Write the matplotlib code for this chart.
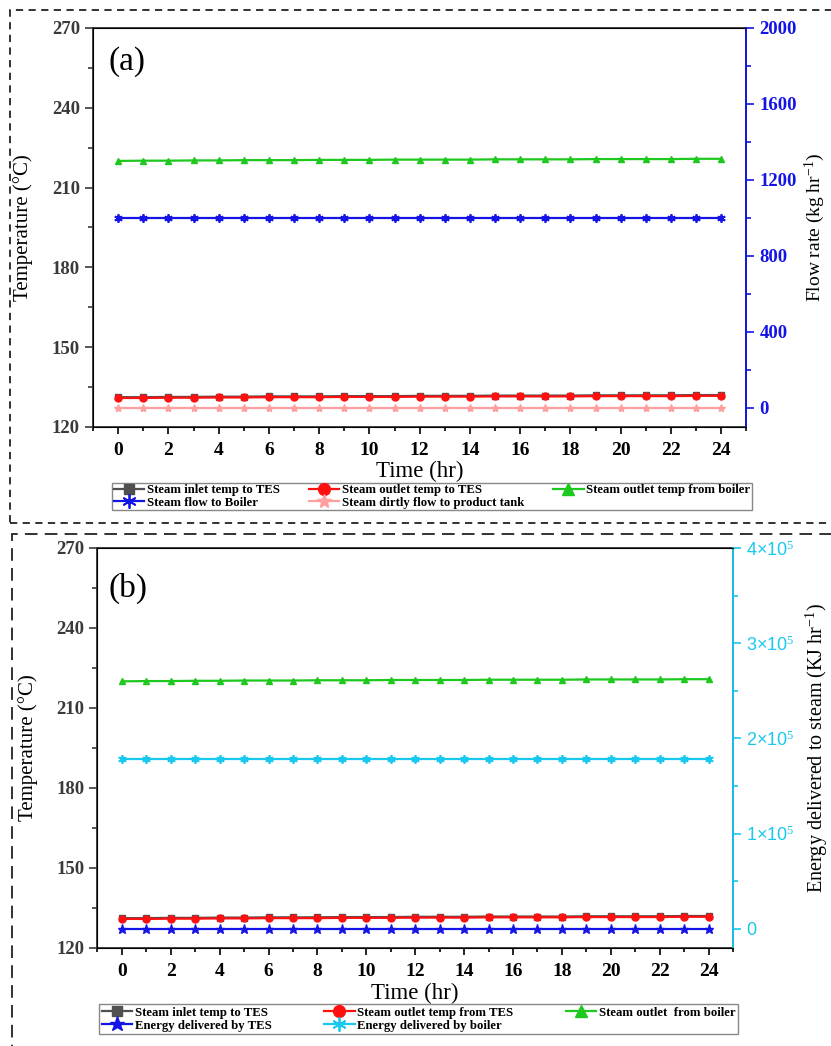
import matplotlib
matplotlib.use("Agg")
import matplotlib.pyplot as plt
from matplotlib.patches import Rectangle
from matplotlib.ticker import MultipleLocator, FuncFormatter

plt.rcParams['font.family'] = 'Liberation Serif'
plt.rcParams['mathtext.fontset'] = 'custom'
plt.rcParams['mathtext.rm'] = 'Liberation Serif'
plt.rcParams['mathtext.it'] = 'Liberation Serif:italic'

hours = list(range(25))

# panel (a)
inlet_a = [131.2, 131.2, 131.3, 131.3, 131.4, 131.4, 131.5, 131.5, 131.5, 131.6, 131.6, 131.6, 131.7,
           131.7, 131.7, 131.8, 131.8, 131.8, 131.8, 131.9, 131.9, 131.9, 131.9, 132.0, 132.0]
outlet_tes_a = [130.9, 130.9, 131.0, 131.0, 131.1, 131.1, 131.2, 131.2, 131.2, 131.3, 131.3, 131.3, 131.4,
                131.4, 131.4, 131.5, 131.5, 131.5, 131.5, 131.6, 131.6, 131.6, 131.6, 131.7, 131.7]
outlet_boiler_a = [220.0, 220.1, 220.1, 220.2, 220.2, 220.3, 220.3, 220.3, 220.4, 220.4, 220.4, 220.5, 220.5,
                   220.5, 220.5, 220.6, 220.6, 220.6, 220.6, 220.7, 220.7, 220.7, 220.7, 220.8, 220.8]
flow_boiler = [1000] * 25
flow_direct = [0] * 25

# panel (b)
inlet_b = [131.2, 131.2, 131.3, 131.3, 131.4, 131.4, 131.5, 131.5, 131.5, 131.6, 131.6, 131.6, 131.7,
           131.7, 131.7, 131.8, 131.8, 131.8, 131.8, 131.9, 131.9, 131.9, 131.9, 132.0, 132.0]
outlet_tes_b = [130.9, 130.9, 131.0, 131.0, 131.1, 131.1, 131.2, 131.2, 131.2, 131.3, 131.3, 131.3, 131.4,
                131.4, 131.4, 131.5, 131.5, 131.5, 131.5, 131.6, 131.6, 131.6, 131.6, 131.7, 131.7]
outlet_boiler_b = [220.0, 220.1, 220.1, 220.2, 220.2, 220.3, 220.3, 220.3, 220.4, 220.4, 220.4, 220.5, 220.5,
                   220.5, 220.5, 220.6, 220.6, 220.6, 220.6, 220.7, 220.7, 220.7, 220.7, 220.8, 220.8]
energy_tes = [0] * 25
energy_boiler = [178000] * 25

GRAY = '#505050'
RED = '#ff1010'
GREEN = '#1ec81e'
BLUE = '#1414e6'
PINK = '#ffa0a0'
CYAN = '#19c8ee'
ASTER = (6, 2, 0)


def style_common(ax):
    ax.set_xlim(-1, 25)
    ax.set_ylim(120, 270)
    ax.xaxis.set_major_locator(MultipleLocator(2))
    ax.xaxis.set_minor_locator(MultipleLocator(1))
    ax.yaxis.set_major_locator(MultipleLocator(30))
    ax.yaxis.set_minor_locator(MultipleLocator(15))
    ax.tick_params(axis='x', which='major', length=5, width=1.2, labelsize=14, pad=6)
    ax.tick_params(axis='x', which='minor', length=3, width=1.2)
    ax.tick_params(axis='y', which='major', length=6, width=1.2, labelsize=13.5, labelcolor='#3a3a3a', color='#3a3a3a')
    ax.tick_params(axis='y', which='minor', length=3.5, width=1.2, color='#3a3a3a')
    for lab in ax.get_xticklabels() + ax.get_yticklabels():
        lab.set_fontweight('bold')
    for sp in ax.spines.values():
        sp.set_linewidth(1.3)
        sp.set_color('#333333')
    ax.set_xlabel('Time (hr)', fontsize=16.5)
    ax.set_ylabel('Temperature (\u00b0C)', fontsize=15)


def temp_lines(ax, inlet, out_tes, out_boil, lab_tes, lab_boil):
    h1, = ax.plot(hours, inlet, color=GRAY, lw=1.6, marker='s', ms=4.5, label='Steam inlet temp to TES')
    h2, = ax.plot(hours, out_tes, color=RED, lw=1.6, marker='o', ms=5, label=lab_tes)
    h3, = ax.plot(hours, out_boil, color=GREEN, lw=1.6, marker='^', ms=5, label=lab_boil)
    return h1, h2, h3


fig = plt.figure(figsize=(8.31, 10.46), dpi=100)

# ---------------- panel (a)
ax1 = fig.add_axes([0.112, 0.5918, 0.786, 0.3815])
h1, h2, h3 = temp_lines(ax1, inlet_a, outlet_tes_a, outlet_boiler_a,
                        'Steam outlet temp to TES', 'Steam outlet temp from boiler')
style_common(ax1)
ax1.text(0.023, 0.915, '(a)', transform=ax1.transAxes, fontsize=24, va='center', ha='left')
ax1.xaxis.set_label_coords(0.5, -0.085)
ax1.yaxis.set_label_coords(-0.092, 0.5)

ax1r = ax1.twinx()
h4, = ax1r.plot(hours, flow_boiler, color=BLUE, lw=1.6, marker=ASTER, ms=6, mew=1.3, label='Steam flow to Boiler')
h5, = ax1r.plot(hours, flow_direct, color=PINK, lw=1.6, marker='*', ms=6, label='Steam dirtly flow to product tank')
ax1r.set_ylim(-100, 2000)
ax1r.yaxis.set_major_locator(MultipleLocator(400))
ax1r.yaxis.set_minor_locator(MultipleLocator(200))
ax1r.tick_params(axis='y', which='major', length=6, width=1.2, colors=BLUE, labelsize=13.5)
ax1r.tick_params(axis='y', which='minor', length=3.5, width=1.2, colors=BLUE)
for lab in ax1r.get_yticklabels():
    lab.set_fontweight('bold')
ax1r.spines['right'].set_color(BLUE)
ax1r.spines['right'].set_linewidth(1.3)
ax1r.set_ylabel('Flow rate (kg hr$^{-1}$)', fontsize=14, rotation=90)
ax1r.yaxis.set_label_coords(1.086, 0.5)

fig.legend([h1, h4, h2, h5, h3], [h.get_label() for h in [h1, h4, h2, h5, h3]],
           ncol=3, loc='upper left', bbox_to_anchor=(0.1348, 0.5096, 0.770, 0.0287),
           mode='expand', fancybox=False, edgecolor='#888888', framealpha=1,
           prop={'weight': 'bold', 'size': 9.2}, handlelength=2.4, handletextpad=0.2,
           borderpad=0.12, labelspacing=0.02, columnspacing=0.6, markerscale=1.7, borderaxespad=0)

# ---------------- panel (b)
ax2 = fig.add_axes([0.1173, 0.0937, 0.7647, 0.3824])
g1, g2, g3 = temp_lines(ax2, inlet_b, outlet_tes_b, outlet_boiler_b,
                        'Steam outlet temp from TES', 'Steam outlet  from boiler')
style_common(ax2)
ax2.text(0.017, 0.90, '(b)', transform=ax2.transAxes, fontsize=24, va='center', ha='left')
ax2.xaxis.set_label_coords(0.5, -0.087)
ax2.yaxis.set_label_coords(-0.093, 0.5)

ax2r = ax2.twinx()
g4, = ax2r.plot(hours, energy_tes, color=BLUE, lw=1.6, marker='*', ms=6.5, label='Energy delivered by TES')
g5, = ax2r.plot(hours, energy_boiler, color=CYAN, lw=1.6, marker=ASTER, ms=6, mew=1.3, label='Energy delivered by boiler')
ax2r.set_ylim(-20000, 400000)
ax2r.yaxis.set_major_locator(MultipleLocator(100000))
ax2r.yaxis.set_minor_locator(MultipleLocator(50000))
ax2r.yaxis.set_major_formatter(FuncFormatter(
    lambda v, p: '0' if v == 0 else '%d\u00d710$^{5}$' % round(v / 1e5)))
ax2r.tick_params(axis='y', which='major', length=6, width=1.2, colors=CYAN, labelsize=13)
ax2r.tick_params(axis='y', which='minor', length=3.5, width=1.2, colors=CYAN)
for lab in ax2r.get_yticklabels():
    lab.set_family(['Liberation Sans', 'DejaVu Sans'])
ax2r.spines['right'].set_color(CYAN)
ax2r.spines['right'].set_linewidth(1.3)
ax2r.set_ylabel('Energy delivered to steam (KJ hr$^{-1}$)', fontsize=14.5, rotation=90)
ax2r.yaxis.set_label_coords(1.112, 0.5)

fig.legend([g1, g4, g2, g5, g3], [h.get_label() for h in [g1, g4, g2, g5, g3]],
           ncol=3, loc='upper left', bbox_to_anchor=(0.1191, 0.0076, 0.769, 0.0325),
           mode='expand', fancybox=False, edgecolor='#888888', framealpha=1,
           prop={'weight': 'bold', 'size': 9.2}, handlelength=2.4, handletextpad=0.2,
           borderpad=0.2, labelspacing=0.08, columnspacing=0.6, markerscale=1.7, borderaxespad=0)

# dashed frames around the two panels
fig.patches.append(Rectangle((10 / 831, 1 - 523 / 1046), 1.0, 513 / 1046, transform=fig.transFigure,
                             fill=False, edgecolor='#222222', lw=1.3, ls=(0, (4, 3)), clip_on=False))
fig.patches.append(Rectangle((12 / 831, -0.1), 1.0, 1 - 534 / 1046 + 0.1, transform=fig.transFigure,
                             fill=False, edgecolor='#222222', lw=1.3, ls=(0, (7, 4)), clip_on=False))

fig.savefig('out.png', dpi=100)
